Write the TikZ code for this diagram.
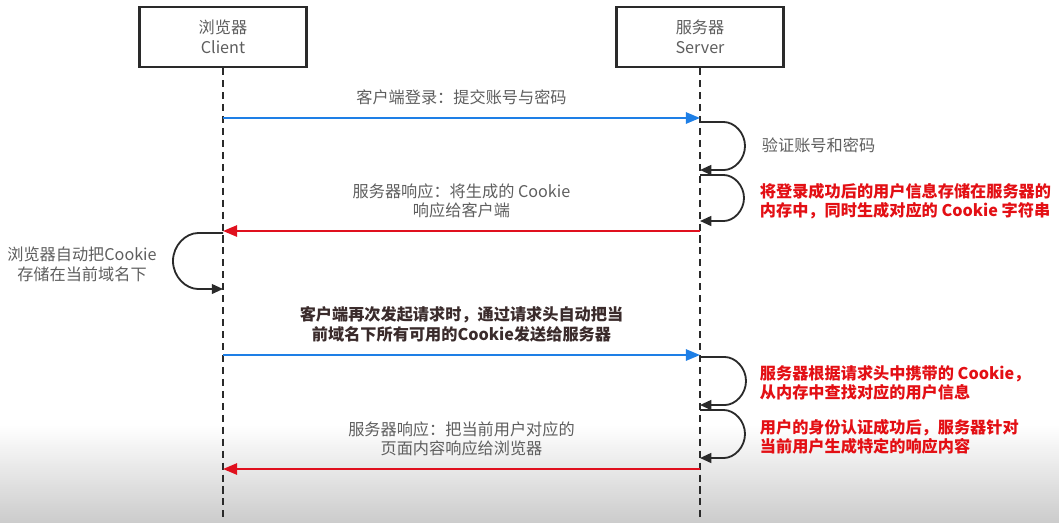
\documentclass[tikz,border=0pt]{standalone}
\usepackage{fontspec}
\setmainfont{Noto Sans CJK SC}
\usetikzlibrary{arrows.meta,positioning}
\definecolor{SeqText}{HTML}{5E5E5E}
\definecolor{SeqLine}{HTML}{2A2A2A}
\definecolor{SeqBlue}{HTML}{1E7FE6}
\definecolor{SeqRed}{HTML}{E0101E}
\definecolor{SeqNote}{HTML}{E30F14}
\definecolor{SeqDark}{HTML}{3A2B2B}

\begin{document}
\begin{tikzpicture}[x=0.025cm, y=-0.025cm, >={Triangle[length=10pt,width=8pt]},
   font=\fontsize{11.5}{14}\selectfont,
   actor/.style={draw=SeqLine, line width=1.6pt, fill=white, minimum width=4.17cm,
                 minimum height=1.5cm, align=center, text=SeqText},
   life/.style={draw=SeqLine, line width=1.4pt, dash pattern=on 5pt off 3.5pt},
   req/.style={->, draw=SeqBlue, line width=1.4pt, SeqBlue},
   resp/.style={->, draw=SeqRed, line width=1.4pt, SeqRed},
   self/.style={-{Triangle[length=8pt,width=7pt]}, draw=SeqLine, line width=1.3pt, rounded corners=2pt},
   msg/.style={text=SeqText, align=center},
   note/.style={text=SeqNote, font=\fontsize{11.5}{13.5}\selectfont\bfseries, align=left, anchor=west}]
  \useasboundingbox (0,0) rectangle (1059,522);
  \fill[top color=white, bottom color=black!20] (0,425) rectangle (1059,522);

  \node[actor] (client) at (223,37) {浏览器\\Client};
  \node[actor] (server) at (700,37) {服务器\\Server};
  \coordinate (cend) at (223,522);
  \coordinate (send) at (700,522);
  \draw[life] (client.south) -- (cend);
  \draw[life] (server.south) -- (send);

  \coordinate (c1) at (223,118);  \coordinate (s1) at (700,118);
  \coordinate (s2) at (700,122);  \coordinate (s3) at (700,170);
  \coordinate (s4) at (700,175);  \coordinate (s5) at (700,221);
  \coordinate (s6) at (700,231);  \coordinate (c6) at (223,231);
  \coordinate (c7) at (223,233);  \coordinate (c8) at (223,289);
  \coordinate (c9) at (223,355);  \coordinate (s9) at (700,355);
  \coordinate (s10) at (700,357); \coordinate (s11) at (700,405);
  \coordinate (s12) at (700,410); \coordinate (s13) at (700,458);
  \coordinate (s14) at (700,469); \coordinate (c14) at (223,469);

  \draw[req] (c1) -- (s1) node[msg, midway, above=5pt] (m1) {客户端登录：提交账号与密码};
  \draw[self] (s2) -- ++(21,0) arc[start angle=-90, end angle=90, radius=24] -- (s3);
  \node[msg, anchor=west] (n1) at (757,145) {验证账号和密码};
  \draw[self] (s4) -- ++(21,0) arc[start angle=-90, end angle=90, radius=23] -- (s5);
  \node[note] (n2) at (755,201) {将登录成功后的用户信息存储在服务器的\\内存中，同时生成对应的 Cookie 字符串};
  \draw[resp] (s6) -- (c6) node[msg, midway, above=5pt] (m2) {服务器响应：将生成的 Cookie\\响应给客户端};
  \draw[self] (c7) -- ++(-22,0) arc[start angle=-90, end angle=-270, radius=28] -- (c8);
  \node[msg] (n3) at (82,264) {浏览器自动把Cookie\\存储在当前域名下};

  \draw[req] (c9) -- (s9) node[midway, above=5pt, align=center, text=SeqDark, font=\fontsize{11.5}{14}\selectfont\bfseries] (m3)
    {客户端再次发起请求时，通过请求头自动把当\\前域名下所有可用的Cookie发送给服务器};
  \draw[self] (s10) -- ++(22,0) arc[start angle=-90, end angle=90, radius=24] -- (s11);
  \node[note] (n4) at (755,383) {服务器根据请求头中携带的 Cookie，\\从内存中查找对应的用户信息};
  \draw[self] (s12) -- ++(21,0) arc[start angle=-90, end angle=90, radius=24] -- (s13);
  \node[note] (n5) at (755,437) {用户的身份认证成功后，服务器针对\\当前用户生成特定的响应内容};
  \draw[resp] (s14) -- (c14) node[msg, midway, above=5pt] (m4) {服务器响应：把当前用户对应的\\页面内容响应给浏览器};
\end{tikzpicture}
\end{document}
